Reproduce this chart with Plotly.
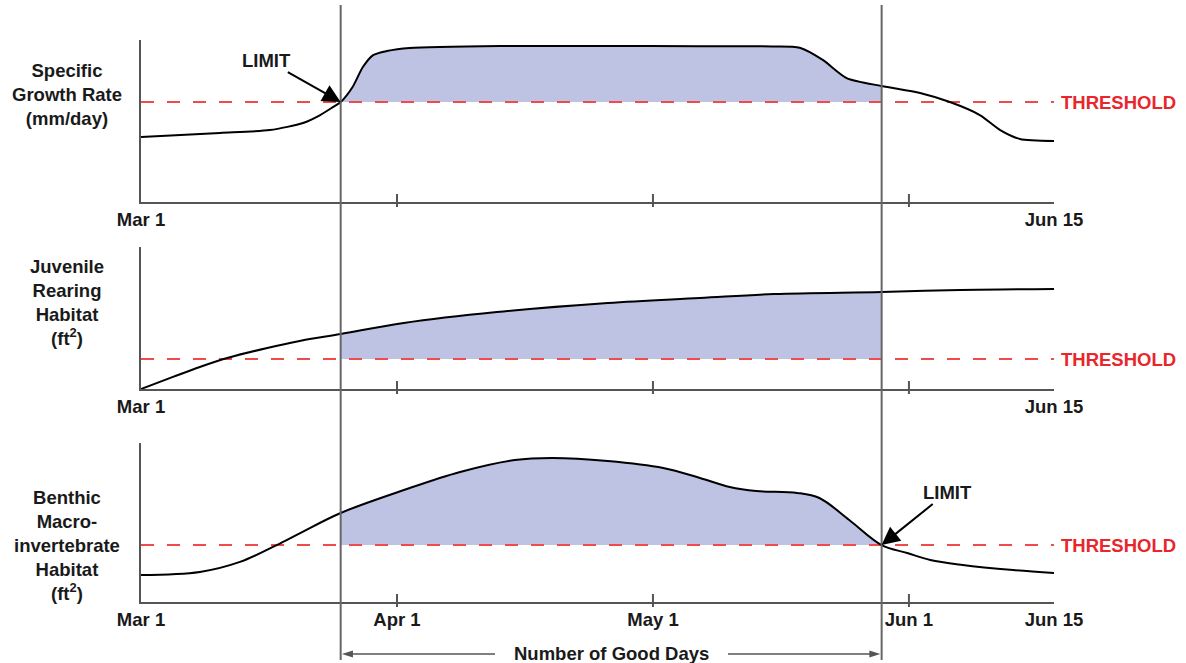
import plotly.graph_objects as go

# ---------------- data ----------------
# x in days since Mar 1 (schematic scale: Apr 1 = 30, May 1 = 60, Jun 1 = 90, Jun 15 = 107)
x_min, x_max = 0, 107
tick_days = [30, 60, 90]
tick_labels = ["Apr 1", "May 1", "Jun 1"]
end_labels = ["Mar 1", "Jun 15"]
good_start, good_end = 23.4, 86.8

panel_titles = [
    "Specific<br>Growth Rate<br>(mm/day)",
    "Juvenile<br>Rearing<br>Habitat<br>(ft<sup>2</sup>)",
    "Benthic<br>Macro-<br>invertebrate<br>Habitat<br>(ft<sup>2</sup>)",
]

growth_days = [0, 9.26, 15.1, 19.0, 21.0, 22.5, 23.4, 24.8, 26.0, 27.2, 28.8, 31.5, 42.1, 53.8,
               65.5, 74.0, 77.2, 79.9, 82.7, 86.8, 91.3, 94.8, 98.3, 100.7, 103.0, 107]
growth_vals = [4.01, 4.26, 4.44, 4.88, 5.37, 5.86, 6.17, 7.10, 8.33, 9.07, 9.32, 9.51, 9.63, 9.63,
               9.62, 9.60, 9.52, 8.77, 7.65, 7.16, 6.73, 6.17, 5.37, 4.44, 3.89, 3.77]
growth_threshold = 6.17

juv_days = [0, 3.75, 6.9, 10.1, 14.8, 18.6, 23.4, 30.8, 41.7, 54.7, 65.5, 74.2, 86.8, 96.0, 107]
juv_vals = [0, 0.85, 1.55, 2.18, 2.89, 3.38, 3.87, 4.65, 5.42, 6.06, 6.41, 6.69, 6.83, 6.97, 7.04]
juv_threshold = 2.11

benth_days = [0, 6.9, 11.6, 15.9, 18.6, 23.4, 30.8, 37.4, 43.8, 48.2, 54.7, 61.2, 65.5, 69.0,
              72.1, 76.9, 79.5, 83.0, 86.8, 89.8, 92.5, 96.3, 102.2, 107]
benth_vals = [1.70, 1.89, 2.52, 3.58, 4.32, 5.60, 7.04, 8.18, 8.93, 9.06, 8.87, 8.43, 7.80, 7.23,
              6.98, 6.86, 6.54, 5.16, 3.58, 3.08, 2.64, 2.33, 2.01, 1.82]
benth_threshold = 3.58

series = [
    (growth_days, growth_vals, growth_threshold),
    (juv_days, juv_vals, juv_threshold),
    (benth_days, benth_vals, benth_threshold),
]

# ---------------- layout helpers ----------------
W, H = 1186, 663
def fx(p): return p / W
def fy(p): return 1 - p / H

FONT = "Liberation Sans"
FS = 18.5
TXT = "#1a1a1a"
RED = "#e8262b"
DASH_RED = "#ef4b4b"
FILL = "rgb(191,195,227)"
AXIS = "#555555"
SMOOTH = [0.7, 1.0, 1.0]

plot_left, plot_right = 141, 1054
panel_px = [(40, 202), (247, 389), (443, 602)]  # (top, bottom) in pixels
title_center_y = [95, 303, 545]
days_per_px = (x_max - x_min) / (plot_right - plot_left)

fig = go.Figure()
layout = dict(
    width=W, height=H,
    margin=dict(l=0, r=0, t=0, b=0, autoexpand=False),
    paper_bgcolor="white", plot_bgcolor="white",
    showlegend=False,
    annotations=[], shapes=[],
)

for i, ((days, vals, thr), (top, bot)) in enumerate(zip(series, panel_px)):
    n = "" if i == 0 else str(i + 1)
    xa, ya = "x" + n, "y" + n
    # fill region between threshold and curve within good days
    sub = [(d, v) for d, v in zip(days, vals) if good_start - 1e-9 <= d <= good_end + 1e-9]
    fig.add_trace(go.Scatter(x=[good_start, good_end], y=[thr, thr], mode="lines",
                             line=dict(width=0), xaxis=xa, yaxis=ya, hoverinfo="skip"))
    fig.add_trace(go.Scatter(x=[s[0] for s in sub], y=[s[1] for s in sub], mode="lines",
                             line=dict(width=0, shape="spline", smoothing=SMOOTH[i]), fill="tonexty",
                             fillcolor=FILL, xaxis=xa, yaxis=ya, hoverinfo="skip"))
    # threshold dashed line
    fig.add_trace(go.Scatter(x=[x_min, x_max], y=[thr, thr], mode="lines",
                             line=dict(color=DASH_RED, width=2, dash="13px,13px"),
                             xaxis=xa, yaxis=ya, hoverinfo="skip"))
    # curve
    fig.add_trace(go.Scatter(x=days, y=vals, mode="lines",
                             line=dict(color="black", width=2, shape="spline", smoothing=SMOOTH[i]),
                             xaxis=xa, yaxis=ya))

    if i == 2:
        tv = [x_min] + tick_days + [x_max]
        tt = [end_labels[0]] + tick_labels + [end_labels[1]]
    else:
        tv = [x_min, x_max]
        tt = end_labels
    layout["xaxis" + n] = dict(
        domain=[fx(plot_left), fx(plot_right)], range=[x_min, x_max], anchor=ya,
        automargin=False,
        showline=True, linecolor=AXIS, linewidth=2, showgrid=False, zeroline=False,
        tickmode="array", tickvals=tv, ticktext=tt, ticks="",
        tickfont=dict(family=FONT, size=FS, color=TXT, weight="bold"),
        fixedrange=True,
    )
    layout["yaxis" + n] = dict(
        domain=[fy(bot), fy(top)], range=[0, 10], anchor=xa,
        automargin=False,
        showline=True, linecolor=AXIS, linewidth=2, showgrid=False, zeroline=False,
        showticklabels=False, ticks="", fixedrange=True,
    )
    # tick marks crossing the axis
    for d in tick_days:
        layout["shapes"].append(dict(type="line", xref=xa, yref="paper", x0=d, x1=d,
                                     y0=fy(bot + 5), y1=fy(bot - 8),
                                     line=dict(color=AXIS, width=2)))
    # panel title
    layout["annotations"].append(dict(
        text="<b>" + panel_titles[i] + "</b>", xref="paper", yref="paper",
        x=fx(67), y=fy(title_center_y[i]), xanchor="center", yanchor="middle",
        showarrow=False, align="center",
        font=dict(family=FONT, size=FS, color=TXT)))
    # THRESHOLD label
    layout["annotations"].append(dict(
        text="<b>THRESHOLD</b>", xref="paper", yref=ya, x=fx(1059), y=thr,
        xanchor="left", yanchor="middle", showarrow=False,
        font=dict(family=FONT, size=FS, color=RED)))

# vertical good-days lines
for d in (good_start, good_end):
    layout["shapes"].append(dict(type="line", xref="x", yref="paper", x0=d, x1=d,
                                 y0=fy(660), y1=fy(5), line=dict(color="#666666", width=2)))

# LIMIT arrows
layout["annotations"].append(dict(
    text="<b>LIMIT</b>", xref="x", yref="y", x=good_start, y=growth_threshold,
    ax=-74, ay=-42, showarrow=True, arrowhead=2, arrowsize=1.8, arrowwidth=2,
    arrowcolor="black", standoff=0, font=dict(family=FONT, size=FS, color=TXT)))
layout["annotations"].append(dict(
    text="<b>LIMIT</b>", xref="x3", yref="y3", x=good_end, y=benth_threshold,
    ax=66, ay=-53, showarrow=True, arrowhead=2, arrowsize=1.8, arrowwidth=2,
    arrowcolor="black", standoff=0, font=dict(family=FONT, size=FS, color=TXT)))

# Number of Good Days dimension arrow (below bottom panel)
arrow_px = 654
arrow_y = fy(arrow_px)
gap_left_px, gap_right_px = 495, 728
head_len = 11 * days_per_px
layout["shapes"].append(dict(type="line", xref="x3", yref="paper", x0=good_start + head_len * 0.8,
                             x1=(gap_left_px - plot_left) * days_per_px,
                             y0=arrow_y, y1=arrow_y, line=dict(color=AXIS, width=1.5)))
layout["shapes"].append(dict(type="line", xref="x3", yref="paper",
                             x0=(gap_right_px - plot_left) * days_per_px,
                             x1=good_end - head_len * 0.8,
                             y0=arrow_y, y1=arrow_y, line=dict(color=AXIS, width=1.5)))
yh0, yh1 = fy(arrow_px - 3.5), fy(arrow_px + 3.5)
for tip, sign in ((good_start + 0.15, 1), (good_end - 0.15, -1)):
    base = tip + sign * head_len
    layout["shapes"].append(dict(
        type="path", xref="x3", yref="paper",
        path=f"M {tip},{arrow_y} L {base},{yh0} L {base},{yh1} Z",
        fillcolor=AXIS, line=dict(width=0)))
layout["annotations"].append(dict(
    text="<b>Number of Good Days</b>", xref="x3", yref="paper",
    x=(good_start + good_end) / 2, y=fy(arrow_px - 1), xanchor="center", yanchor="middle",
    showarrow=False, font=dict(family=FONT, size=FS, color=TXT)))

fig.update_layout(**layout)
fig.write_html("out.html", config={"displayModeBar": False},
               post_script="document.body.style.margin='0';document.body.style.overflow='hidden';")
